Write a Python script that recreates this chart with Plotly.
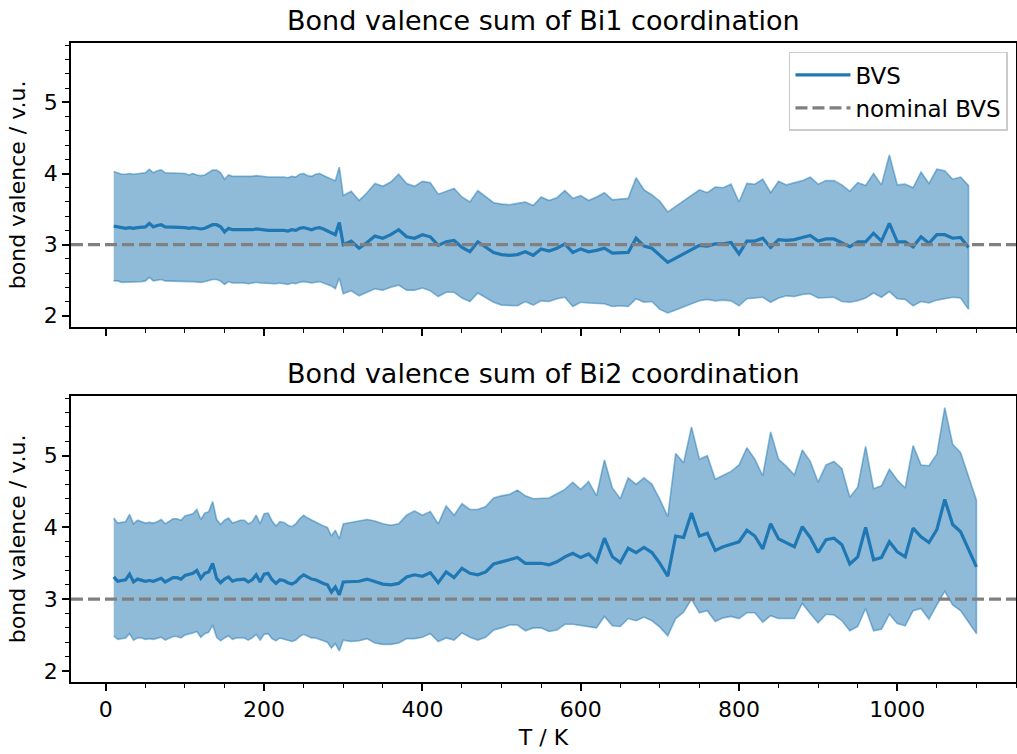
import plotly.graph_objects as go

# ---------------- data ----------------
T_BI1 = [10, 15, 20, 25, 30, 35, 40, 45, 50, 55, 60, 65, 70, 75, 80, 85, 90, 95,
         100, 105, 110, 115, 120, 125, 130, 135, 140, 145, 150, 155, 160, 165, 170,
         175, 180, 185, 190, 195, 200, 205, 210, 215, 220, 225, 230, 235, 240, 245,
         250, 255, 260, 265, 270, 275, 280, 285, 290, 295,
         300, 310, 320, 330, 340, 350, 360, 370, 380, 390, 400, 410, 420, 430, 440,
         450, 460, 470, 480, 490, 500, 510, 520, 530, 540, 550, 560, 570, 580, 590,
         600, 610, 620, 630, 640, 650, 660, 670, 680, 690, 700, 710, 720, 730, 740,
         750, 760, 770, 780, 790, 800, 810, 820, 830, 840, 850, 860, 870, 880, 890,
         900, 910, 920, 930, 940, 950, 960, 970, 980, 990, 1000, 1010, 1020, 1030,
         1040, 1050, 1060, 1070, 1080, 1090]

BVS_BI1 = [3.26, 3.25, 3.23, 3.23, 3.24, 3.23, 3.24, 3.24, 3.25, 3.30,
           3.25, 3.27, 3.28, 3.25, 3.25, 3.25, 3.25, 3.25, 3.24, 3.23,
           3.24, 3.23, 3.22, 3.23, 3.25, 3.28, 3.28, 3.25, 3.18, 3.23,
           3.21, 3.21, 3.21, 3.21, 3.20, 3.21, 3.22, 3.21, 3.20, 3.20,
           3.20, 3.20, 3.21, 3.20, 3.19, 3.21, 3.20, 3.23, 3.24, 3.22,
           3.21, 3.23, 3.24, 3.22, 3.19, 3.17, 3.14, 3.31,
           3.00, 3.05, 2.95, 3.03, 3.12, 3.09, 3.14, 3.21, 3.11, 3.09,
           3.14, 3.11, 2.99, 3.04, 3.06, 2.96, 2.90, 3.04, 2.96, 2.89,
           2.86, 2.85, 2.86, 2.90, 2.85, 2.94, 2.91, 2.95, 3.01, 2.89,
           2.94, 2.90, 2.92, 2.95, 2.88, 2.89, 2.89, 3.09, 2.98, 2.95,
           2.85, 2.75, 2.81, 2.87, 2.93, 2.99, 2.98, 3.01, 3.01, 3.03,
           2.87, 3.05, 3.05, 3.09, 2.96, 3.07, 3.06, 3.07, 3.10, 3.13,
           3.05, 3.08, 3.08, 3.02, 2.97, 3.04, 3.04, 3.16, 3.05, 3.30,
           3.04, 3.04, 2.97, 3.11, 3.02, 3.14, 3.14, 3.09, 3.10, 2.96]

SPREAD_BI1 = [0.77, 0.76, 0.76, 0.76, 0.76, 0.76, 0.76, 0.76, 0.76, 0.76,
              0.76, 0.77, 0.77, 0.76, 0.76, 0.76, 0.76, 0.76, 0.76, 0.75,
              0.76, 0.75, 0.75, 0.75, 0.76, 0.77, 0.77, 0.76, 0.74, 0.75,
              0.75, 0.75, 0.75, 0.75, 0.75, 0.75, 0.75, 0.75, 0.75, 0.75,
              0.75, 0.75, 0.75, 0.75, 0.75, 0.75, 0.75, 0.76, 0.76, 0.75,
              0.75, 0.76, 0.76, 0.75, 0.75, 0.75, 0.76, 0.78,
              0.69, 0.70, 0.67, 0.70, 0.74, 0.73, 0.74, 0.78, 0.75, 0.73,
              0.75, 0.76, 0.72, 0.71, 0.73, 0.71, 0.70, 0.72, 0.71, 0.70,
              0.71, 0.71, 0.72, 0.70, 0.70, 0.73, 0.71, 0.71, 0.75, 0.76,
              0.75, 0.72, 0.75, 0.78, 0.75, 0.75, 0.76, 0.85, 0.79, 0.75,
              0.76, 0.71, 0.73, 0.75, 0.76, 0.78, 0.75, 0.80, 0.79, 0.82,
              0.73, 0.81, 0.80, 0.83, 0.77, 0.82, 0.78, 0.80, 0.80, 0.82,
              0.80, 0.82, 0.82, 0.82, 0.78, 0.83, 0.79, 0.84, 0.79, 0.96,
              0.80, 0.81, 0.83, 0.91, 0.84, 0.92, 0.90, 0.83, 0.85, 0.87]

T_BI2 = [10, 15, 20, 25, 30, 35, 40, 45, 50, 55, 60, 65, 70, 75, 80, 85, 90, 95,
         100, 105, 110, 115, 120, 125, 130, 135, 140, 145, 150, 155, 160, 165, 170,
         175, 180, 185, 190, 195, 200, 205, 210, 215, 220, 225, 230, 235, 240, 245,
         250, 255, 260, 265, 270, 275, 280, 285, 290, 295,
         300, 310, 320, 330, 340, 350, 360, 370, 380, 390, 400, 410, 420, 430, 440,
         450, 460, 470, 480, 490, 500, 510, 520, 530, 540, 550, 560, 570, 580, 590,
         600, 610, 620, 630, 640, 650, 660, 670, 680, 690, 700, 710, 720, 730, 740,
         750, 760, 770, 780, 790, 800, 810, 820, 830, 840, 850, 860, 870, 880, 890,
         900, 910, 920, 930, 940, 950, 960, 970, 980, 990, 1000, 1010, 1020, 1030,
         1040, 1050, 1060, 1070, 1080, 1090, 1100]

BVS_BI2 = [3.31, 3.25, 3.26, 3.27, 3.35, 3.24, 3.28, 3.27, 3.25, 3.26,
           3.25, 3.27, 3.29, 3.24, 3.27, 3.30, 3.30, 3.28, 3.33, 3.35,
           3.36, 3.40, 3.29, 3.36, 3.38, 3.50, 3.29, 3.23, 3.28, 3.31,
           3.25, 3.27, 3.28, 3.28, 3.24, 3.27, 3.34, 3.24, 3.35, 3.36,
           3.27, 3.22, 3.27, 3.26, 3.23, 3.21, 3.24, 3.30, 3.34, 3.31,
           3.28, 3.27, 3.24, 3.22, 3.20, 3.10, 3.17, 3.06,
           3.24, 3.24, 3.25, 3.28, 3.24, 3.21, 3.20, 3.22, 3.31, 3.34,
           3.32, 3.37, 3.23, 3.38, 3.30, 3.43, 3.36, 3.34, 3.38, 3.49,
           3.52, 3.55, 3.58, 3.50, 3.50, 3.50, 3.48, 3.52, 3.59, 3.64,
           3.58, 3.63, 3.52, 3.85, 3.59, 3.51, 3.71, 3.65, 3.72, 3.65,
           3.50, 3.32, 3.88, 3.86, 4.20, 3.88, 3.92, 3.68, 3.73, 3.77,
           3.80, 3.96, 3.88, 3.70, 4.05, 3.84, 3.79, 3.73, 4.01, 3.86,
           3.65, 3.83, 3.85, 3.76, 3.49, 3.59, 4.00, 3.55, 3.58, 3.80,
           3.66, 3.59, 3.99, 3.87, 3.79, 3.97, 4.39, 4.04, 3.94, 3.70,
           3.45]

SPREAD_BI2 = [0.82, 0.81, 0.81, 0.81, 0.83, 0.81, 0.82, 0.81, 0.81, 0.81,
              0.81, 0.81, 0.82, 0.81, 0.81, 0.82, 0.82, 0.82, 0.83, 0.83,
              0.83, 0.85, 0.82, 0.84, 0.84, 0.86, 0.82, 0.81, 0.82, 0.82,
              0.81, 0.81, 0.82, 0.82, 0.81, 0.81, 0.83, 0.81, 0.84, 0.84,
              0.82, 0.80, 0.81, 0.81, 0.80, 0.80, 0.81, 0.82, 0.83, 0.82,
              0.82, 0.81, 0.81, 0.80, 0.80, 0.78, 0.79, 0.78,
              0.81, 0.83, 0.83, 0.83, 0.85, 0.84, 0.83, 0.83, 0.86, 0.89,
              0.85, 0.85, 0.82, 0.92, 0.87, 0.90, 0.89, 0.91, 0.91, 0.92,
              0.92, 0.91, 0.94, 0.94, 0.90, 0.90, 0.93, 0.95, 0.94, 0.99,
              0.95, 1.01, 0.92, 1.09, 0.96, 0.89, 0.98, 0.95, 0.97, 0.95,
              0.89, 0.83, 1.15, 1.04, 1.20, 1.07, 1.08, 0.99, 0.99, 1.01,
              1.07, 1.15, 1.07, 1.02, 1.28, 1.11, 1.06, 1.00, 1.07, 1.06,
              0.98, 1.04, 1.07, 1.06, 0.93, 0.97, 1.13, 0.99, 1.00, 1.01,
              1.00, 0.96, 1.15, 1.00, 1.07, 1.05, 1.28, 1.12, 1.10, 1.02,
              0.93]

NOMINAL_BVS = 3.0
TITLES = ["Bond valence sum of Bi1 coordination", "Bond valence sum of Bi2 coordination"]
SERIES_NAMES = ["BVS", "nominal BVS"]
X_LABEL = "T / K"
Y_LABEL = "bond valence / v.u."

# ---------------- styling ----------------
BLUE = "#1f77b4"
FILL = "rgba(31,119,180,0.5)"
GREY = "#808080"
FONT = "DejaVu Sans"
TICK_SIZE = 22
LEGEND_SIZE = 23
TITLE_SIZE = 27
X_RANGE = [-44, 1150]
Y_RANGE = [1.846, 5.835]

fig = go.Figure()

panels = [(T_BI1, BVS_BI1, SPREAD_BI1, "x", "y"),
          (T_BI2, BVS_BI2, SPREAD_BI2, "x2", "y2")]

for i, (t, m, s, xa, ya) in enumerate(panels):
    upper = [a + b for a, b in zip(m, s)]
    lower = [a - b for a, b in zip(m, s)]
    fig.add_trace(go.Scatter(
        x=t + t[::-1], y=upper + lower[::-1], mode="lines", fill="toself",
        fillcolor=FILL, line=dict(color=FILL, width=1.6),
        hoverinfo="skip", showlegend=False, xaxis=xa, yaxis=ya))
    fig.add_trace(go.Scatter(
        x=t, y=m, mode="lines", line=dict(color=BLUE, width=3.2),
        name=SERIES_NAMES[0], showlegend=(i == 0), xaxis=xa, yaxis=ya))
    fig.add_shape(type="line", xref=f"{xa} domain", yref=ya, x0=0, x1=1,
                  y0=NOMINAL_BVS, y1=NOMINAL_BVS,
                  line=dict(color=GREY, width=3.2, dash="12px,5px"), layer="above")

# legend entry for the nominal line
fig.add_trace(go.Scatter(x=[None], y=[None], mode="lines",
                         line=dict(color=GREY, width=3.2, dash="12px,5px"),
                         name=SERIES_NAMES[1], xaxis="x", yaxis="y"))

axis_common = dict(showline=True, linecolor="black", linewidth=1.7, mirror=True,
                   ticks="outside", ticklen=7, tickwidth=1.6, tickcolor="black",
                   showgrid=False, zeroline=False,
                   tickfont=dict(family=FONT, size=TICK_SIZE, color="black"))

xminor = dict(tickmode="linear", tick0=0, dtick=50, ticks="outside", ticklen=4,
              tickwidth=1.2, tickcolor="black", showgrid=False)
yminor = dict(tickmode="linear", tick0=2, dtick=0.2, ticks="outside", ticklen=4,
              tickwidth=1.2, tickcolor="black", showgrid=False)

fig.update_layout(
    width=1017, height=754,
    margin=dict(l=71, r=1, t=43, b=72, autoexpand=False),
    paper_bgcolor="white", plot_bgcolor="white",
    font=dict(family=FONT, size=TICK_SIZE, color="black"),
    xaxis=dict(domain=[0, 1], anchor="y", range=X_RANGE, tickmode="linear",
               tick0=0, dtick=200, showticklabels=False, minor=xminor,
               matches="x2", **axis_common),
    yaxis=dict(domain=[0.556, 1], anchor="x", range=Y_RANGE, tickmode="linear",
               tick0=2, dtick=1, minor=yminor,
               title=dict(text=Y_LABEL, font=dict(family=FONT, size=TICK_SIZE), standoff=12),
               **axis_common),
    xaxis2=dict(domain=[0, 1], anchor="y2", range=X_RANGE, tickmode="linear",
                tick0=0, dtick=200, minor=xminor,
                title=dict(text=X_LABEL, font=dict(family=FONT, size=TICK_SIZE), standoff=8),
                **axis_common),
    yaxis2=dict(domain=[0, 0.448], anchor="x2", range=Y_RANGE, tickmode="linear",
                tick0=2, dtick=1, minor=yminor,
                title=dict(text=Y_LABEL, font=dict(family=FONT, size=TICK_SIZE), standoff=12),
                **axis_common),
    legend=dict(x=0.9915, y=0.986, xanchor="right", yanchor="top",
                bgcolor="rgba(255,255,255,0.8)", bordercolor="#cccccc",
                borderwidth=1.5, font=dict(family=FONT, size=LEGEND_SIZE, color="black"),
                itemwidth=55, tracegroupgap=0),
    annotations=[
        dict(text=TITLES[0], xref="paper", yref="paper", x=0.5, y=1,
             xanchor="center", yanchor="bottom", yshift=5, showarrow=False,
             font=dict(family=FONT, size=TITLE_SIZE, color="black")),
        dict(text=TITLES[1], xref="paper", yref="paper", x=0.5, y=0.448,
             xanchor="center", yanchor="bottom", yshift=5, showarrow=False,
             font=dict(family=FONT, size=TITLE_SIZE, color="black")),
    ],
)

fig.write_html("out.html")
